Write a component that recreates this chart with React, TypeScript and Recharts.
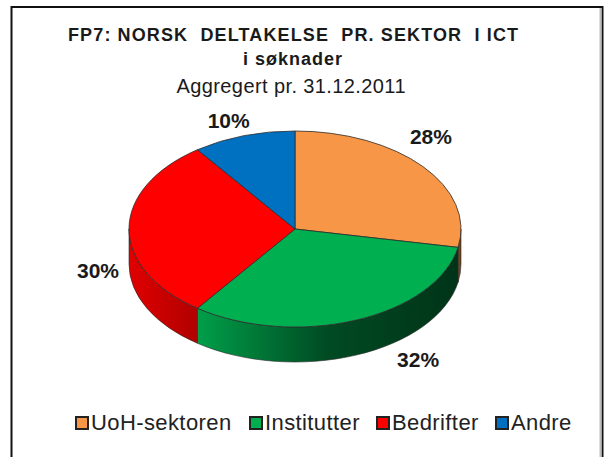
import React from 'react';
import { PieChart, Pie, Legend } from 'recharts';

const categories = ['UoH-sektoren', 'Institutter', 'Bedrifter', 'Andre'];
const shares = [28, 32, 30, 10];
const colors = ['#F79646', '#00B050', '#FF0000', '#0070C0'];
const wallColors = ['url(#wallOrange)', 'url(#wallGreen)', 'url(#wallRed)', 'url(#wallBlue)'];

const W = 609;
const H = 457;
const CX = 295;
const CY = 229;
const RX = 166;
const RY = 98;
const DEPTH = 35;
const FONT = '"Liberation Sans", Arial, sans-serif';

// nudges from the rim of the ellipse, Excel put these by hand
const labelNudge = [
  [8, -30],
  [62, 39],
  [-31, 41],
  [-15, -15],
];

// left edge of each legend entry
const legendLeft = [0, 174, 301, 420];

const table = categories.map((name, i) => ({ name, value: shares[i], fill: colors[i], wall: wallColors[i] }));

const pt = (deg: number, dy = 0) => {
  const r = (deg * Math.PI) / 180;
  return [CX + RX * Math.cos(r), CY - RY * Math.sin(r) + dy];
};

const TopSlice = (props: any) => {
  const { startAngle, endAngle, fill } = props;
  const [x1, y1] = pt(startAngle);
  const [x2, y2] = pt(endAngle);
  const large = Math.abs(startAngle - endAngle) > 180 ? 1 : 0;
  return (
    <path
      d={`M${CX},${CY} L${x1},${y1} A${RX},${RY} 0 ${large} 1 ${x2},${y2} Z`}
      fill={fill}
      stroke="#2b2b2b"
      strokeWidth={0.8}
    />
  );
};

// only the front half of the cylinder is visible
const WallSlice = (props: any) => {
  const { startAngle, endAngle, payload } = props;
  const a = Math.min(startAngle, 0);
  const b = Math.max(endAngle, -180);
  if (a <= b) return null;
  const [x1, y1] = pt(a);
  const [x2, y2] = pt(b);
  const [x3, y3] = pt(b, DEPTH);
  const [x4, y4] = pt(a, DEPTH);
  return (
    <path
      d={`M${x1},${y1} A${RX},${RY} 0 0 1 ${x2},${y2} L${x3},${y3} A${RX},${RY} 0 0 0 ${x4},${y4} Z`}
      fill={payload.wall}
      stroke="#2b2b2b"
      strokeWidth={0.6}
    />
  );
};

const renderLabel = (props: any) => {
  const { index, midAngle, value } = props;
  const [x, y] = pt(midAngle);
  const [dx, dy] = labelNudge[index];
  return (
    <text
      key={index}
      x={x + dx}
      y={y + dy}
      textAnchor="middle"
      dominantBaseline="central"
      fontFamily={FONT}
      fontSize={21}
      fontWeight="bold"
      fill="#1a1a1a"
    >
      {value}%
    </text>
  );
};

const renderLegend = () => (
  <div style={{ position: 'relative', height: 26, fontFamily: FONT, fontSize: 22, color: '#222', lineHeight: '26px', letterSpacing: 0.4 }}>
    {categories.map((name, i) => (
      <div key={name} style={{ position: 'absolute', left: legendLeft[i], top: 0, display: 'flex', alignItems: 'center', whiteSpace: 'nowrap' }}>
        <span
          style={{
            width: 10,
            height: 10,
            background: colors[i],
            border: '2px solid #222',
            marginRight: 2,
            display: 'inline-block',
          }}
        />
        {name}
      </div>
    ))}
  </div>
);

const App: React.FC = () => {
  return (
    <div style={{ position: 'absolute', left: 0, top: 0, width: W, height: H, background: '#fff' }}>
      <PieChart width={W} height={H} margin={{ top: 0, right: 0, bottom: 0, left: 0 }}>
        <defs>
          <linearGradient id="wallGreen" gradientUnits="userSpaceOnUse" x1={CX - RX} x2={CX + RX} y1="0" y2="0">
            <stop offset="0.2" stopColor="#00A04A" />
            <stop offset="0.6" stopColor="#004A22" />
            <stop offset="1" stopColor="#003318" />
          </linearGradient>
          <linearGradient id="wallRed" gradientUnits="userSpaceOnUse" x1={CX - RX} x2={CX - 96} y1="0" y2="0">
            <stop offset="0" stopColor="#E00000" />
            <stop offset="1" stopColor="#B00000" />
          </linearGradient>
          <linearGradient id="wallOrange" gradientUnits="userSpaceOnUse" x1={CX + RX - 4} x2={CX + RX} y1="0" y2="0">
            <stop offset="0" stopColor="#8A5020" />
            <stop offset="1" stopColor="#6A3C18" />
          </linearGradient>
          <linearGradient id="wallBlue" gradientUnits="userSpaceOnUse" x1="0" x2="1" y1="0" y2="0">
            <stop offset="0" stopColor="#004A80" />
          </linearGradient>
        </defs>
        <rect x={11.5} y={7} width={591} height={H} fill="none" stroke="#111" strokeWidth={2} />
        <line x1={600.5} y1={8} x2={600.5} y2={H} stroke="#bbb" strokeWidth={2} />
        <text x={293} y={41} textAnchor="middle" fontFamily={FONT} fontSize={18} fontWeight="bold" fill="#1a1a1a" textLength={450} lengthAdjust="spacing" style={{ whiteSpace: 'pre' }}>
          FP7: NORSK  DELTAKELSE  PR. SEKTOR  I ICT
        </text>
        <text x={293} y={65} textAnchor="middle" fontFamily={FONT} fontSize={18} fontWeight="bold" fill="#1a1a1a" letterSpacing={1}>
          i søknader
        </text>
        <text x={291} y={93} textAnchor="middle" fontFamily={FONT} fontSize={20} fill="#1a1a1a" textLength={229} lengthAdjust="spacing">
          Aggregert pr. 31.12.2011
        </text>
        <Pie
          data={table}
          dataKey="value"
          nameKey="name"
          cx={CX}
          cy={CY}
          outerRadius={RX}
          startAngle={90}
          endAngle={-270}
          paddingAngle={0}
          legendType="none"
          shape={WallSlice}
          isAnimationActive={false}
        />
        <Pie
          data={table}
          dataKey="value"
          nameKey="name"
          cx={CX}
          cy={CY}
          outerRadius={RX}
          startAngle={90}
          endAngle={-270}
          paddingAngle={0}
          shape={TopSlice}
          label={renderLabel}
          labelLine={false}
          isAnimationActive={false}
        />
        <Legend
          content={renderLegend}
          wrapperStyle={{ position: 'absolute', left: 75, top: 410, width: 520 }}
        />
      </PieChart>
    </div>
  );
};

export default App;
